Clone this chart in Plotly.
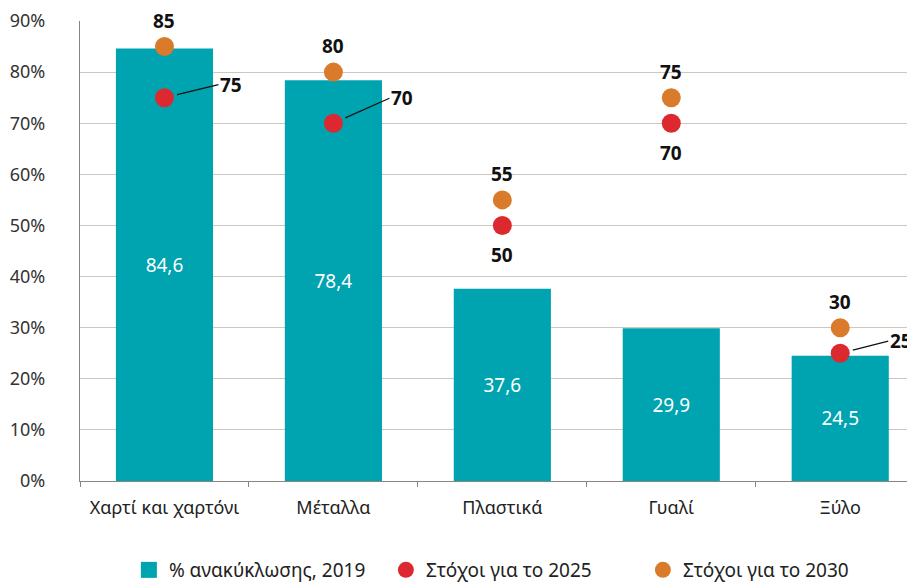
import plotly.graph_objects as go

categories = ["Χαρτί και χαρτόνι", "Μέταλλα", "Πλαστικά", "Γυαλί", "Ξύλο"]
recycling_2019 = [84.6, 78.4, 37.6, 29.9, 24.5]
target_2025 = [75, 70, 50, 70, 25]
target_2030 = [85, 80, 55, 75, 30]
bar_labels = ["84,6", "78,4", "37,6", "29,9", "24,5"]
y_ticks = [0, 10, 20, 30, 40, 50, 60, 70, 80, 90]
y_tick_text = [f"{v}%" for v in y_ticks]

TEAL = "#00A3B0"
RED = "#DC2930"
ORANGE = "#D97B2B"
FONT = "Noto Sans"

fig = go.Figure()
fig.add_trace(go.Bar(
    x=categories, y=recycling_2019, name="% ανακύκλωσης, 2019",
    marker=dict(color=TEAL, line=dict(width=0)), width=0.575,
    text=bar_labels, textposition="inside", insidetextanchor="middle",
    textfont=dict(color="white", size=19, family=FONT), hoverinfo="skip",
    showlegend=False,
))
# legend-only entry with a larger square swatch for the bars
fig.add_trace(go.Scatter(
    x=[None], y=[None], name="% ανακύκλωσης, 2019", mode="markers",
    marker=dict(color=TEAL, size=22, symbol="square"),
))
fig.add_trace(go.Scatter(
    x=categories, y=target_2025, name="Στόχοι για το 2025", mode="markers",
    marker=dict(color=RED, size=19), cliponaxis=False,
))
fig.add_trace(go.Scatter(
    x=categories, y=target_2030, name="Στόχοι για το 2030", mode="markers",
    marker=dict(color=ORANGE, size=19), cliponaxis=False,
))

# 2030 labels above markers
for c, v in zip(categories, target_2030):
    fig.add_annotation(x=c, y=v, text=f"<b>{v}</b>", showarrow=False,
                       yshift=26, font=dict(size=19, color="#111", family=FONT))

# 2025 labels: leader lines for some, below for others
leader = {0: (54, -13), 1: (56, -25), 4: (48, -12)}
for i, (c, v) in enumerate(zip(categories, target_2025)):
    if i in leader:
        ax, ay = leader[i]
        fig.add_annotation(x=c, y=v, text=f"<b>{v}</b>", showarrow=True,
                           arrowhead=0, arrowwidth=1.3, arrowcolor="#111",
                           standoff=13, ax=ax, ay=ay, xanchor="left",
                           font=dict(size=19, color="#111", family=FONT))
    else:
        fig.add_annotation(x=c, y=v, text=f"<b>{v}</b>", showarrow=False,
                           yshift=-30, font=dict(size=19, color="#111", family=FONT))

fig.update_layout(
    width=915, height=582,
    margin=dict(l=72, r=0, t=13, b=109, autoexpand=False),
    paper_bgcolor="white", plot_bgcolor="white",
    font=dict(family=FONT, size=18, color="#222"),
    showlegend=True,
    legend=dict(orientation="h", x=0.058, xanchor="left", y=-0.1935, yanchor="middle",
                font=dict(size=19, color="#222", family=FONT), itemsizing="trace",
                entrywidth=212, entrywidthmode="pixels",
                traceorder="normal"),
    bargap=0.4,
)
fig.update_xaxes(range=[-0.5, 4.49], showgrid=False, showline=True,
                 linecolor="#8a8580", linewidth=1.2, ticks="outside",
                 tickson="boundaries", ticklen=5, tickcolor="#8a8580",
                 automargin=False, ticklabelstandoff=10,
                 tickfont=dict(size=18, color="#222", family=FONT))
fig.update_yaxes(range=[0, 90], tickvals=y_ticks, ticktext=y_tick_text,
                 showgrid=True, gridcolor="#CFC7BF", gridwidth=1.2,
                 showline=True, linecolor="#8a8580", linewidth=1.2,
                 zeroline=False, ticklabelstandoff=30, automargin=False,
                 tickfont=dict(size=18, color="#333", family=FONT))

fig.write_html("out.html")
